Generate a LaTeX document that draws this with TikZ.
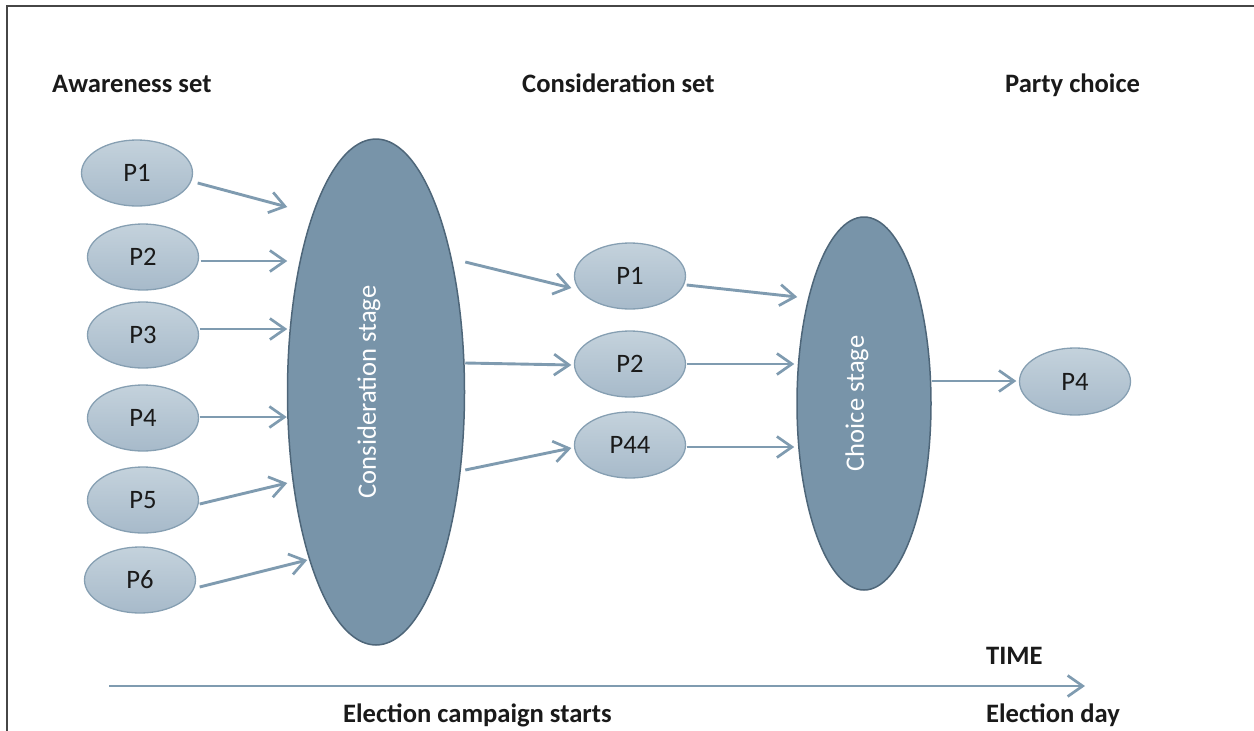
\documentclass[tikz,border=0pt]{standalone}
\usepackage{fontspec}
\setmainfont{Carlito}
\usetikzlibrary{arrows.meta,shapes.geometric}
\definecolor{arrcol}{HTML}{7F9BB0}
\definecolor{smtop}{HTML}{C4D2DC}
\definecolor{smbot}{HTML}{A7BACA}
\definecolor{smborder}{HTML}{869FB2}
\definecolor{bigfill}{HTML}{7894A9}
\definecolor{bigborder}{HTML}{4E6679}
\definecolor{txt}{HTML}{1A1A1A}
\definecolor{framecol}{HTML}{464646}
\begin{document}
\begin{tikzpicture}[x=1pt,y=-1pt,
  every node/.style={font=\fontsize{26.6}{32}\selectfont, text=txt},
  small/.style={ellipse, draw=smborder, line width=1.3pt, top color=smtop, bottom color=smbot,
     minimum width=111pt, minimum height=66pt, inner sep=0pt},
  big/.style={ellipse, draw=bigborder, line width=1.5pt, fill=bigfill, inner sep=0pt, text=white},
  head/.style={font=\fontsize{26.6}{32}\selectfont\bfseries, anchor=base west, inner sep=0pt},
  arr/.style={draw=arrcol, line width=2.9pt, -{Straight Barb[length=15pt,width=21pt,line width=2.7pt]}},
  framel/.style={draw=framecol, line width=2.2pt}
]
\useasboundingbox (0,0) rectangle (1254,731);
% frame
\coordinate (fb) at (7,731);
\coordinate (fc) at (7,6);
\coordinate (fr) at (1254,6);
\draw[framel] (fb) -- (fc) -- (fr);

% headings
\node[head] (h1) at (52,92) {Awareness set};
\node[head] (h2) at (522,92) {Consideration set};
\node[head] (h3) at (1005,92) {Party choice};
\node[head] (h4) at (986,664) {TIME};
\node[head] (h5) at (343,722) {Election campaign starts};
\node[head] (h6) at (986,722) {Election day};

% awareness set
\node[small] (l1) at (137,173) {P1};
\node[small] (l2) at (143,257) {P2};
\node[small] (l3) at (143,335) {P3};
\node[small] (l4) at (143,418) {P4};
\node[small] (l5) at (143,500) {P5};
\node[small] (l6) at (140,580) {P6};

% consideration stage
\node[big, minimum width=177pt, minimum height=506pt] (cs) at (376,392) {\hspace*{-14pt}\rotatebox{90}{Consideration stage}};

% consideration set
\node[small] (m1) at (630,276) {P1};
\node[small] (m2) at (630,364) {P2};
\node[small] (m3) at (630,445) {P44};

% choice stage
\node[big, minimum width=134pt, minimum height=373pt] (ch) at (864,403.5) {\hspace*{-14pt}\rotatebox{90}{Choice stage}};

% party choice
\node[small, minimum height=67pt] (fin) at (1075,381.5) {P4};

% arrows awareness -> consideration
\draw[arr] ([shift={(4.5,10)}]l1.east) -- ([shift={(0.5,-185)}]cs.west);
\draw[arr] ([shift={(1.5,4)}]l2.east) -- ([shift={(0.5,-131)}]cs.west);
\draw[arr] ([shift={(0.5,-6)}]l3.east) -- ([shift={(0.5,-63)}]cs.west);
\draw[arr] ([shift={(0.5,-1)}]l4.east) -- ([shift={(0,25)}]cs.west);
\draw[arr] ([shift={(0.5,4)}]l5.east) -- ([shift={(0.5,91)}]cs.west);
\draw[arr] ([shift={(3.5,7)}]l6.east) -- ([shift={(20.5,168)}]cs.west);

% consideration -> set
\draw[arr] ([shift={(0,-130)}]cs.east) -- ([shift={(-2.5,12)}]m1.west);
\draw[arr] ([shift={(0,-29)}]cs.east) -- ([shift={(-2.5,1)}]m2.west);
\draw[arr] ([shift={(0,78)}]cs.east) -- ([shift={(-2.5,3)}]m3.west);

% set -> choice
\draw[arr] ([shift={(0.5,9)}]m1.east) -- ([shift={(1,-106.5)}]ch.west);
\draw[arr] ([shift={(0.5,0)}]m2.east) -- ([shift={(-2,-39.5)}]ch.west);
\draw[arr] ([shift={(0.5,2)}]m3.east) -- ([shift={(-2,43.5)}]ch.west);

% choice -> party
\draw[arr] ([shift={(0,-22.5)}]ch.east) -- ([shift={(-2.5,-0.5)}]fin.west);

% time axis
\coordinate (t0) at (109,686);
\coordinate (t1) at (1085,686);
\draw[arr] (t0) -- (t1);
\end{tikzpicture}
\end{document}
